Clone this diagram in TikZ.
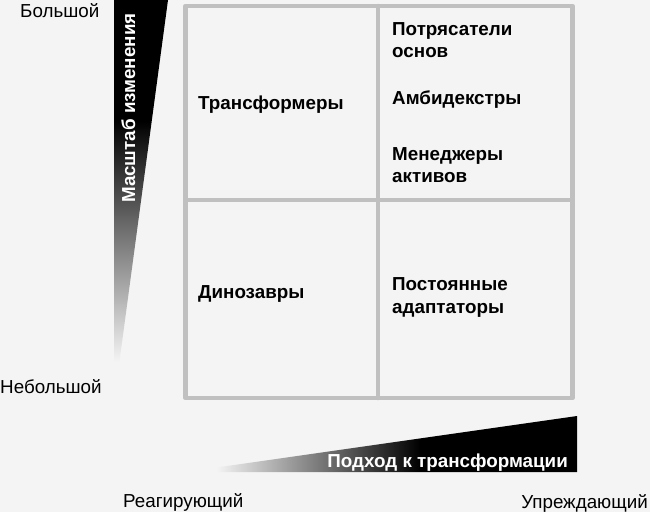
\documentclass[tikz,border=0pt]{standalone}
\usepackage{fontspec}
\setmainfont{Liberation Sans}
\definecolor{bgc}{RGB}{244,244,244}
\definecolor{gridc}{RGB}{192,192,192}
\pgfdeclareverticalshading{vwedge}{100bp}{color(0bp)=(bgc); color(30bp)=(bgc); color(60bp)=(black); color(100bp)=(black)}
\pgfdeclarehorizontalshading{hwedge}{100bp}{color(0bp)=(bgc); color(29bp)=(bgc); color(55bp)=(black); color(100bp)=(black)}
\begin{document}
\begin{tikzpicture}[x=1pt,y=-1pt,
  axislbl/.style={inner sep=0pt, font=\fontsize{18.8}{22}\selectfont, text=black},
  quad/.style={inner sep=0pt, font=\fontsize{18.8}{22}\selectfont\bfseries, text=black},
  wedgelbl/.style={inner sep=0pt, font=\fontsize{18.8}{22}\selectfont\bfseries, text=white},
  gridline/.style={draw=gridc, line width=4.5pt, line cap=round, line join=round}]
\fill[bgc] (0,0) rectangle (650,512);
\useasboundingbox (0,0) rectangle (650,512);
% wedges
\shade[shading=vwedge] (114,0) -- (168,0) -- (114,402) -- cycle;
\shade[shading=hwedge] (185,472) -- (577,472) -- (577,416) -- cycle;
% grid
\coordinate (tl) at (185.5,6);
\coordinate (tr) at (572.5,6);
\coordinate (bl) at (185.5,398);
\coordinate (br) at (572.5,398);
\coordinate (tm) at (378,6);
\coordinate (bm) at (378,398);
\coordinate (lm) at (185.5,200);
\coordinate (rm) at (572.5,200);
\draw[gridline] (tl) -- (tr) -- (br) -- (bl) -- cycle;
\draw[gridline] (tm) -- (bm);
\draw[gridline] (lm) -- (rm);
% axis labels
\node[axislbl, anchor=base west] (big) at (20,17) {Большой};
\node[axislbl, anchor=base west] (small) at (0,393) {Небольшой};
\node[axislbl, anchor=base west] (react) at (123,507) {Реагирующий};
\node[axislbl, anchor=base east] (proact) at (648,508) {Упреждающий};
\node[wedgelbl, anchor=base west, rotate=90] (scale) at (135,203) {Масштаб изменения};
\node[wedgelbl, anchor=base east] (approach) at (568,467) {Подход к трансформации};
% quadrant labels
\node[quad, anchor=base west] (trans) at (198,109) {Трансформеры};
\node[quad, anchor=base west] (shak1) at (392,35) {Потрясатели};
\node[quad, anchor=base west] (shak2) at (392,57) {основ};
\node[quad, anchor=base west] (ambi) at (392,104) {Амбидекстры};
\node[quad, anchor=base west] (man1) at (392,160) {Менеджеры};
\node[quad, anchor=base west] (man2) at (392,182) {активов};
\node[quad, anchor=base west] (dino) at (198,298) {Динозавры};
\node[quad, anchor=base west] (ad1) at (392,290) {Постоянные};
\node[quad, anchor=base west] (ad2) at (392,313) {адаптаторы};
\end{tikzpicture}
\end{document}
